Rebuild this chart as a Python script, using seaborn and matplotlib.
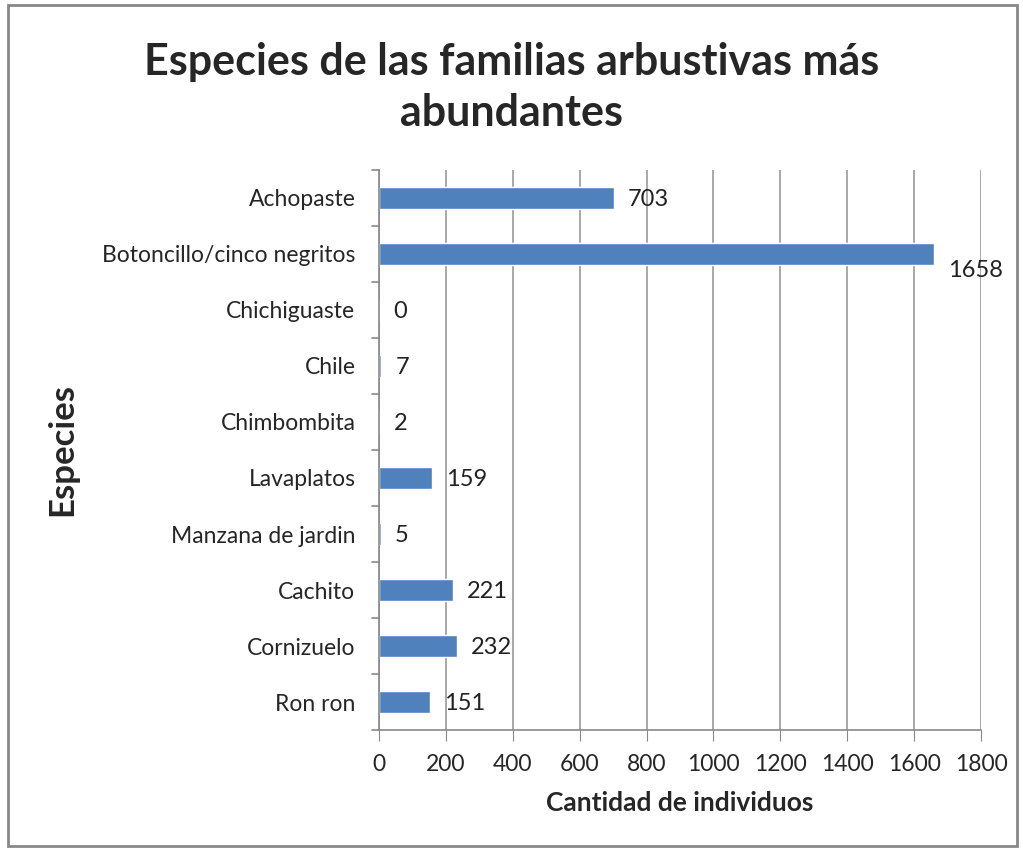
import pandas as pd
import seaborn as sns
import matplotlib.pyplot as plt
from matplotlib.patches import Rectangle

# species and counts
especies = ['Achopaste', 'Botoncillo/cinco negritos', 'Chichiguaste', 'Chile',
            'Chimbombita', 'Lavaplatos', 'Manzana de jardin', 'Cachito',
            'Cornizuelo', 'Ron ron']
cantidad = [703, 1658, 0, 7, 2, 159, 5, 221, 232, 151]
x_ticks = [0, 200, 400, 600, 800, 1000, 1200, 1400, 1600, 1800]

df = pd.DataFrame({'especie': especies, 'cantidad': cantidad})

sns.set_style('white')
plt.rcParams['font.family'] = ['Lato', 'DejaVu Sans']

fig = plt.figure(figsize=(10.23, 8.49), dpi=100)
ax = fig.add_axes([0.3705, 0.140, 0.5885, 0.66])

sns.barplot(data=df, x='cantidad', y='especie', orient='h', color='#4F81BD',
            width=0.4, saturation=1, ax=ax)

# value labels next to bars (excel pushes the longest one a bit down)
for i, v in enumerate(cantidad):
    dy = 0.3 if v > 1500 else 0.03
    ax.text(v + 42, i + dy, str(v), va='center', ha='left', fontsize=17, color='#222222')

ax.set_xlim(0, 1800)
ax.set_xticks(x_ticks)
ax.set_xticklabels([str(t) for t in x_ticks], fontsize=16.5)
ax.set_ylim(len(especies) - 0.5, -0.5)
ax.tick_params(axis='y', labelsize=16.5, length=0, pad=17)
ax.tick_params(axis='x', length=8, color='#888888', pad=9, bottom=True)
ax.grid(axis='x', color='#999999', linewidth=1.2)
ax.set_axisbelow(True)

# small ticks between categories on the y axis
for b in range(len(especies) + 1):
    ax.plot([-0.012, 0], [b - 0.5, b - 0.5], transform=ax.get_yaxis_transform(),
            color='#888888', lw=1.2, clip_on=False)

for s in ['top', 'right']:
    ax.spines[s].set_visible(False)
ax.spines['left'].set_color('#888888')
ax.spines['bottom'].set_color('#888888')
ax.spines['left'].set_linewidth(1.2)
ax.spines['bottom'].set_linewidth(1.2)

ax.set_xlabel('Cantidad de individuos', fontsize=19, fontweight='bold', labelpad=12)
ax.set_ylabel('Especies', fontsize=25, fontweight='bold')
ax.yaxis.set_label_coords(-0.5, 0.5)

fig.suptitle('Especies de las familias arbustivas más\nabundantes', fontsize=31,
             fontweight='bold', y=0.951, linespacing=1.35)

# gray frame around the whole chart
fig.patches.append(Rectangle((0.008, 0.004), 0.986, 0.99, transform=fig.transFigure,
                             fill=False, edgecolor='#888888', linewidth=2))

fig.savefig('out.png', dpi=100)
